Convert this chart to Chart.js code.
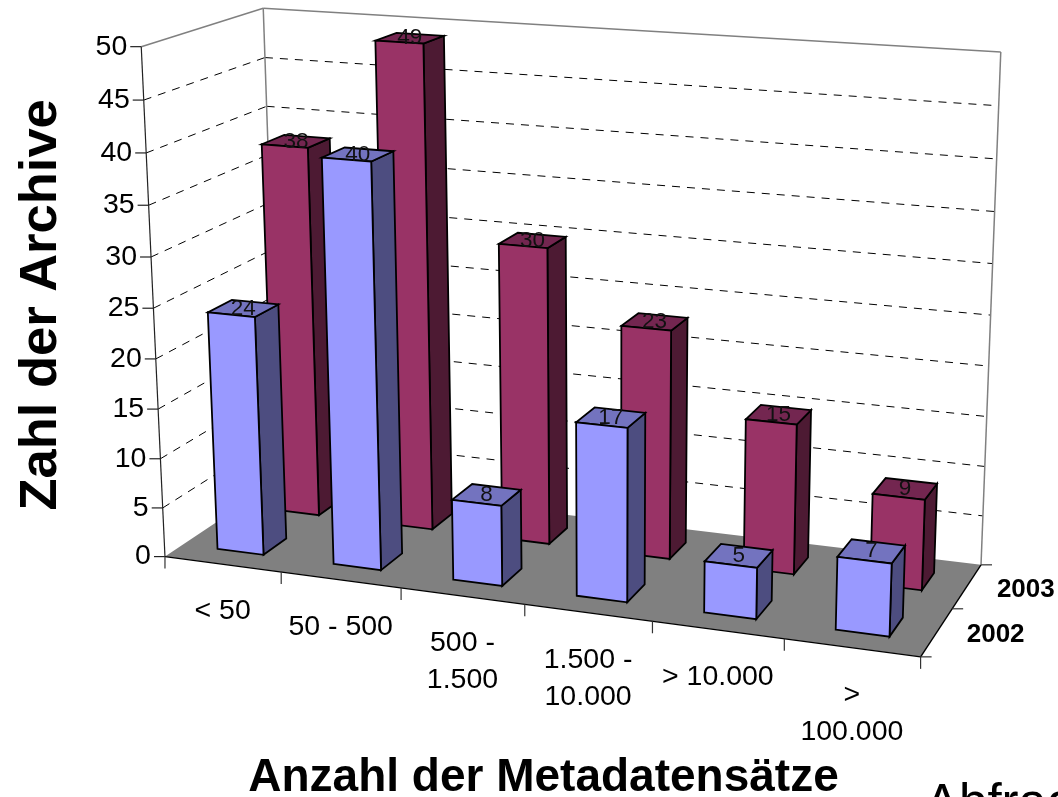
<!DOCTYPE html>
<html>
<head>
<meta charset="utf-8">
<style>
  html, body { margin: 0; padding: 0; background: #fff; overflow: hidden; }
  canvas { display: block; }
</style>
<script src="https://cdn.jsdelivr.net/npm/chart.js@4/dist/chart.umd.js"></script>
</head>
<body>
<canvas id="chart" width="1058" height="797"></canvas>
<script>
const categories = ['< 50', '50 - 500', ['500 -', '1.500'], ['1.500 -', '10.000'], '> 10.000', ['>', '100.000']];
const seriesNames = ['2002', '2003'];
const values2002 = [24, 40, 8, 17, 5, 7];
const values2003 = [38, 49, 30, 23, 15, 9];
const valueTicksMax = 50;
const valueTickStep = 5;

const FONT = '"Liberation Sans", Arial, sans-serif';

// Corners of the plot box on the page, as (u, v, w) -> (x, y)
const BOX = [
    [0, 0, 0, 163.5, 556.7],
    [0, 1, 0, 142.7, 46.7],
    [0, 1, 1, 261.7, 8.3],
    [0, 0, 1, 281, 480],
    [1, 0, 0, 920.7, 656.7],
    [1, 0, 1, 980.7, 565],
    [1, 1, 1, 1001, 52]
];

// Least squares fit of the perspective camera
function fitCamera(points) {
    const n = 11;
    const ata = Array.from({ length: n }, () => new Array(n + 1).fill(0));
    const addRow = (row, rhs) => {
        for (let i = 0; i < n; i++) {
            for (let j = 0; j < n; j++) ata[i][j] += row[i] * row[j];
            ata[i][n] += row[i] * rhs;
        }
    };
    points.forEach(([u, v, w, x, y]) => {
        addRow([u, v, w, 1, 0, 0, 0, 0, -x * u, -x * v, -x * w], x);
        addRow([0, 0, 0, 0, u, v, w, 1, -y * u, -y * v, -y * w], y);
    });
    for (let c = 0; c < n; c++) {
        let best = c;
        for (let r = c + 1; r < n; r++) if (Math.abs(ata[r][c]) > Math.abs(ata[best][c])) best = r;
        [ata[c], ata[best]] = [ata[best], ata[c]];
        for (let r = 0; r < n; r++) {
            if (r === c) continue;
            const f = ata[r][c] / ata[c][c];
            for (let k = c; k <= n; k++) ata[r][k] -= f * ata[c][k];
        }
    }
    return ata.map((row, i) => row[n] / row[i]);
}

const cam = fitCamera(BOX);
function project(u, v, w) {
    const d = cam[8] * u + cam[9] * v + cam[10] * w + 1;
    return [
        (cam[0] * u + cam[1] * v + cam[2] * w + cam[3]) / d,
        (cam[4] * u + cam[5] * v + cam[6] * w + cam[7]) / d
    ];
}

function poly(ctx, pts, fill, stroke, lineWidth) {
    ctx.beginPath();
    pts.forEach((p, i) => i ? ctx.lineTo(p[0], p[1]) : ctx.moveTo(p[0], p[1]));
    ctx.closePath();
    if (fill) { ctx.fillStyle = fill; ctx.fill(); }
    if (stroke) { ctx.strokeStyle = stroke; ctx.lineWidth = lineWidth || 1; ctx.stroke(); }
}

function line(ctx, a, b, color, width, dash) {
    ctx.beginPath();
    ctx.setLineDash(dash || []);
    ctx.moveTo(a[0], a[1]);
    ctx.lineTo(b[0], b[1]);
    ctx.strokeStyle = color;
    ctx.lineWidth = width;
    ctx.stroke();
    ctx.setLineDash([]);
}

// Three faces of one bar, lengths all come from the scales
function drawPrism(ctx, u0, u1, w0, w1, v, colors) {
    const p = (a, b, c) => project(a, b, c);
    poly(ctx, [p(u1, 0, w0), p(u1, 0, w1), p(u1, v, w1), p(u1, v, w0)], colors.side, '#000', 1.8);
    poly(ctx, [p(u0, v, w0), p(u1, v, w0), p(u1, v, w1), p(u0, v, w1)], colors.top, '#000', 1.8);
    poly(ctx, [p(u0, 0, w0), p(u1, 0, w0), p(u1, v, w0), p(u0, v, w0)], colors.front, '#000', 1.8);
}

const bar3d = {
    id: 'bar3d',
    beforeDatasetsDraw(chart) {
        const { ctx, chartArea: area, scales } = chart;
        const toU = px => (px - area.left) / area.width;
        const toV = py => (area.bottom - py) / area.height;
        const yScale = scales.y, xScale = scales.x, zScale = scales.z;
        const slot = 1 / seriesNames.length;

        ctx.save();

        // floor
        poly(ctx, [project(0, 0, 0), project(1, 0, 0), project(1, 0, 1), project(0, 0, 1)], '#808080');

        // walls: dashed lines on each tick, grey outline
        yScale.ticks.forEach(t => {
            const v = toV(yScale.getPixelForValue(t.value));
            if (t.value === 0 || t.value === valueTicksMax) return;
            line(ctx, project(0, v, 0), project(0, v, 1), '#000', 1, [8, 7]);
            line(ctx, project(0, v, 1), project(1, v, 1), '#000', 1, [8, 7]);
        });
        const wall = [project(0, 1, 0), project(0, 1, 1), project(1, 1, 1), project(1, 0, 1)];
        wall.slice(1).forEach((pt, i) => line(ctx, wall[i], pt, '#808080', 1.5));
        line(ctx, project(0, 1, 1), project(0, 0, 1), '#808080', 1.5);

        // axis lines and tick marks
        line(ctx, project(0, 0, 0), project(0, 1, 0), '#222', 1.2);
        line(ctx, project(0, 0, 0), project(1, 0, 0), '#000', 1.4);
        line(ctx, project(1, 0, 0), project(1, 0, 1), '#000', 1.4);

        ctx.fillStyle = '#000';
        ctx.font = '28.5px ' + FONT;
        ctx.textAlign = 'right';
        ctx.textBaseline = 'middle';
        yScale.ticks.forEach(t => {
            const p = project(0, toV(yScale.getPixelForValue(t.value)), 0);
            line(ctx, [p[0] - 11, p[1]], p, '#222', 1.2);
            ctx.fillStyle = '#000';
            ctx.fillText(t.label, p[0] - 14, p[1]);
        });

        const catStep = 1 / categories.length;
        ctx.textAlign = 'center';
        categories.forEach((label, i) => {
            const u = toU(xScale.getPixelForValue(i));
            const tickPt = project(u - catStep / 2, 0, 0);
            line(ctx, tickPt, [tickPt[0], tickPt[1] + 12], '#333', 1.2);
            const mid = project(u, 0, 0);
            const lines = Array.isArray(label) ? label : [label];
            lines.forEach((txt, k) => {
                ctx.fillStyle = '#000';
                ctx.fillText(txt, mid[0], mid[1] + 47 + k * 37);
            });
        });
        const endPt = project(1, 0, 0);
        line(ctx, endPt, [endPt[0], endPt[1] + 12], '#333', 1.2);

        // depth axis
        for (let k = 0; k <= seriesNames.length; k++) {
            const p = project(1, 0, k * slot);
            line(ctx, p, [p[0] + 11, p[1]], '#333', 1.2);
        }
        ctx.font = 'bold 26px ' + FONT;
        ctx.textAlign = 'left';
        seriesNames.forEach((name, k) => {
            const p = project(1, 0, toU(zScale.getPixelForValue(k)));
            ctx.fillStyle = '#000';
            ctx.fillText(name, p[0] + 30, p[1] + 3);
        });

        // bars, back series first, left to right
        const labels = [];
        for (let d = chart.data.datasets.length - 1; d >= 0; d--) {
            const ds = chart.data.datasets[d];
            const meta = chart.getDatasetMeta(d);
            const wc = toU(zScale.getPixelForValue(d));
            const half = ds.barPercentage * slot / 2;
            meta.data.forEach((el, i) => {
                const u0 = toU(el.x - el.width / 2), u1 = toU(el.x + el.width / 2);
                const v = toV(el.y);
                drawPrism(ctx, u0, u1, wc - half, wc + half, v, ds.faces);
                labels.push({ at: project((u0 + u1) / 2, v, wc), text: String(ds.data[i]) });
            });
        }

        ctx.font = '22.5px ' + FONT;
        ctx.textAlign = 'center';
        ctx.fillStyle = '#111';
        labels.forEach(l => ctx.fillText(l.text, l.at[0], l.at[1]));

        // piece of the next slide's caption, cut by the page edge
        ctx.font = '51px ' + FONT;
        ctx.textAlign = 'left';
        ctx.textBaseline = 'alphabetic';
        ctx.fillStyle = '#000';
        ctx.fillText('Abfrage', 925, 820);

        ctx.restore();
        return false; // skip the flat bars
    }
};

new Chart(document.getElementById('chart'), {
    type: 'bar',
    data: {
        labels: categories,
        datasets: [
            {
                label: seriesNames[0],
                data: values2002,
                grouped: false,
                barPercentage: 0.4,
                categoryPercentage: 1,
                backgroundColor: '#9999ff',
                faces: { front: '#9999ff', side: '#4d4d80', top: '#7373bf' }
            },
            {
                label: seriesNames[1],
                data: values2003,
                grouped: false,
                barPercentage: 0.4,
                categoryPercentage: 1,
                backgroundColor: '#993366',
                faces: { front: '#993366', side: '#4d1a33', top: '#732650' }
            }
        ]
    },
    options: {
        responsive: false,
        animation: false,
        layout: { padding: { left: 10, right: 72, top: 66, bottom: 0 } },
        plugins: { legend: { display: false }, tooltip: { enabled: false } },
        scales: {
            x: {
                ticks: { display: false },
                grid: { display: false },
                border: { display: false },
                title: {
                    display: true,
                    text: 'Anzahl der Metadatensätze',
                    color: '#000',
                    font: { family: FONT, size: 46, weight: 'bold' },
                    padding: { top: 199, bottom: -9 }
                }
            },
            y: {
                min: 0,
                max: valueTicksMax,
                ticks: { display: false, stepSize: valueTickStep },
                grid: { display: false },
                border: { display: false },
                title: {
                    display: true,
                    text: 'Zahl der Archive',
                    color: '#000',
                    font: { family: FONT, size: 52.5, weight: 'bold' },
                    padding: { top: 0, bottom: 20 }
                }
            },
            z: {
                type: 'category',
                labels: seriesNames,
                axis: 'x',
                position: 'bottom',
                display: false,
                offset: true
            }
        }
    },
    plugins: [bar3d]
});
</script>
</body>
</html>
